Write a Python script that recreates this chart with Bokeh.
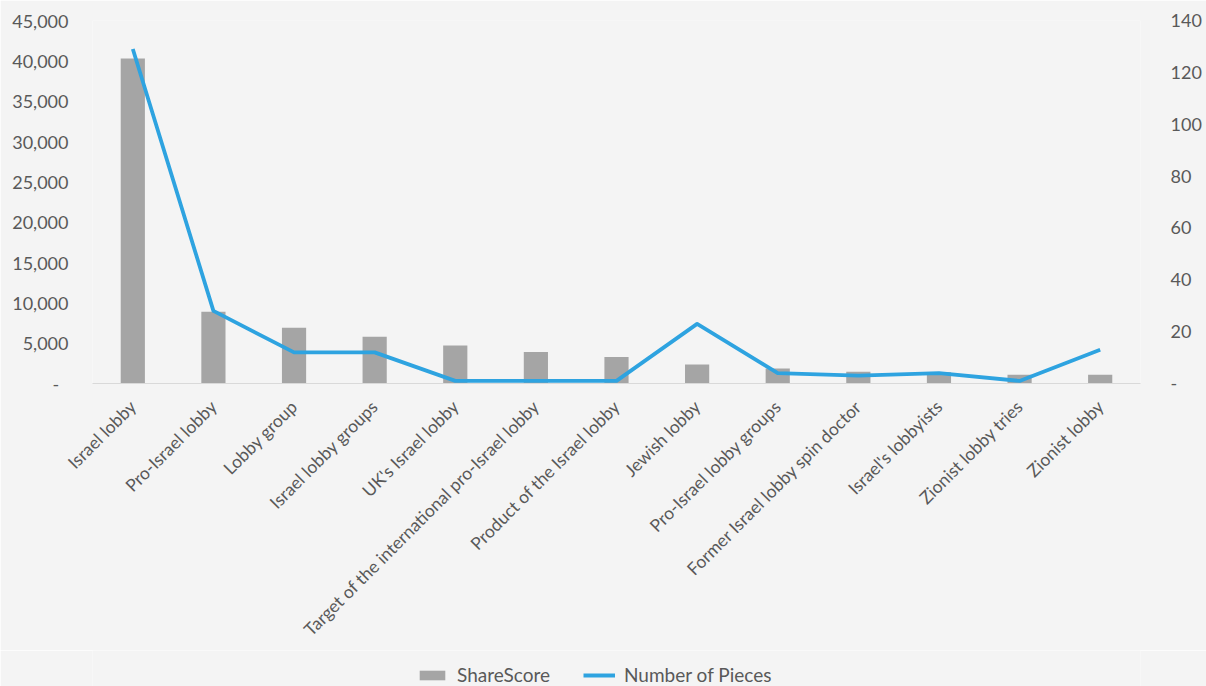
import math
from bokeh.plotting import figure
from bokeh.layouts import column
from bokeh.models import (Range1d, LinearAxis, FactorRange, Legend, LegendItem,
                          FixedTicker, NumeralTickFormatter, ColumnDataSource)
from bokeh.embed import file_html
from bokeh.resources import INLINE

categories = ["Israel lobby", "Pro-Israel lobby", "Lobby group", "Israel lobby groups",
              "UK's Israel lobby", "Target of the international pro-Israel lobby",
              "Product of the Israel lobby", "Jewish lobby", "Pro-Israel lobby groups",
              "Former Israel lobby spin doctor", "Israel's lobbyists",
              "Zionist lobby tries", "Zionist lobby"]
share_score = [40300, 8900, 6900, 5800, 4700, 3900, 3300, 2350, 1850, 1450, 1400, 1080, 1080]
pieces = [129, 28, 12, 12, 1, 1, 1, 23, 4, 3, 4, 1, 13]
left_ticks = [0, 5000, 10000, 15000, 20000, 25000, 30000, 35000, 40000, 45000]
right_ticks = [0, 20, 40, 60, 80, 100, 120, 140]

FONT = "Lato"
TXT = "#595959"
BG = "#f4f4f4"
BAR = "#a5a5a5"
LINE = "#2ea3e0"

src = ColumnDataSource(dict(cat=categories, share=share_score, pieces=pieces))

p = figure(width=1206, height=650,
           x_range=FactorRange(factors=categories, range_padding=0),
           y_range=Range1d(0, 45000), output_backend="svg", toolbar_location=None,
           min_border_left=92, min_border_right=66, min_border_top=20, min_border_bottom=267)
p.extra_y_ranges = {"pieces": Range1d(0, 140)}

p.background_fill_color = BG
p.border_fill_color = BG
p.outline_line_color = None
p.xgrid.grid_line_color = None
p.ygrid.grid_line_color = None

bar_style = dict(width=0.3, fill_color=BAR, line_color=None)
line_style = dict(line_color=LINE, line_width=3.8, line_join="round")

p.vbar(x="cat", top="share", source=src, **bar_style)
p.line(x="cat", y="pieces", source=src, y_range_name="pieces", **line_style)

# left axis
ya = p.yaxis[0]
ya.ticker = FixedTicker(ticks=left_ticks)
ya.formatter = NumeralTickFormatter(format="0,0")
ya.major_label_overrides = {0: "-\u00a0\u00a0"}
ya.axis_line_color = None
ya.major_tick_line_color = None
ya.major_tick_out = 0
ya.minor_tick_line_color = None
ya.minor_tick_out = 0
ya.major_label_standoff = 24
ya.major_label_text_font = FONT
ya.major_label_text_font_size = "18px"
ya.major_label_text_color = TXT

# right axis
ra = LinearAxis(y_range_name="pieces", ticker=FixedTicker(ticks=right_ticks))
ra.major_label_overrides = {0: "-"}
ra.axis_line_color = None
ra.major_tick_line_color = None
ra.major_tick_out = 0
ra.minor_tick_line_color = None
ra.minor_tick_out = 0
ra.major_label_standoff = 30
ra.major_label_text_font = FONT
ra.major_label_text_font_size = "18px"
ra.major_label_text_color = TXT
p.add_layout(ra, "right")

# x axis
xa = p.xaxis[0]
xa.major_label_orientation = math.pi / 4
xa.axis_line_color = "#d9d9d9"
xa.axis_line_width = 1
xa.major_tick_line_color = None
xa.major_tick_out = 0
xa.minor_tick_line_color = None
xa.minor_tick_out = 0
xa.major_label_standoff = 20
xa.major_label_text_font = FONT
xa.major_label_text_font_size = "17.5px"
xa.major_label_text_color = TXT

# legend strip below the chart (same series, same styles; marks fall far outside its view)
lg = figure(width=1206, height=36, x_range=FactorRange(factors=categories, range_padding=0),
            y_range=Range1d(100000, 100001), output_backend="svg", toolbar_location=None,
            x_axis_location=None, y_axis_location=None,
            min_border_left=0, min_border_right=0, min_border_top=0, min_border_bottom=0)
lg.background_fill_color = BG
lg.border_fill_color = BG
lg.outline_line_color = None
lg.xgrid.grid_line_color = None
lg.ygrid.grid_line_color = None
lbars = lg.vbar(x="cat", top="share", source=src, **bar_style)
lline = lg.line(x="cat", y="pieces", source=src, **line_style)

legend = Legend(items=[LegendItem(label="ShareScore", renderers=[lbars]),
                       LegendItem(label="Number of Pieces", renderers=[lline])],
                orientation="horizontal", location=(324, 0),
                background_fill_color=BG, background_fill_alpha=0, border_line_color=None,
                label_text_font=FONT, label_text_font_size="19px", label_text_color=TXT,
                glyph_width=32, glyph_height=12, label_standoff=9, spacing=33,
                margin=0, padding=4)
lg.add_layout(legend, "center")

layout = column(p, lg, spacing=0)
open("out.html", "w").write(file_html(layout, INLINE))
